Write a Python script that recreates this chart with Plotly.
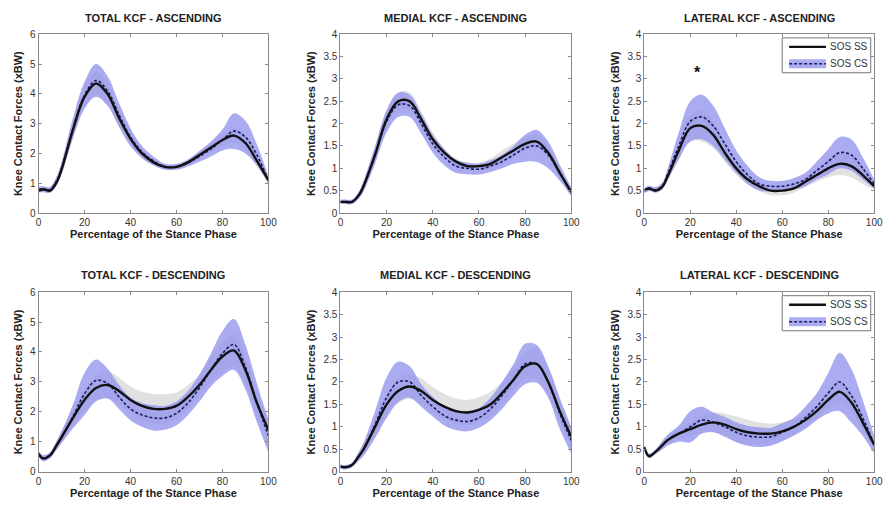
import plotly.graph_objects as go

# ---------------- data ----------------
pct = [0, 2, 5, 8, 10, 15, 20, 25, 30, 35, 40, 45, 50, 55, 60, 65, 70, 75, 80, 85, 90, 95, 100]

titles = ["TOTAL KCF - ASCENDING", "MEDIAL KCF - ASCENDING", "LATERAL KCF - ASCENDING",
          "TOTAL KCF - DESCENDING", "MEDIAL KCF - DESCENDING", "LATERAL KCF - DESCENDING"]

# SOS SS (solid) / SOS CS (dashed) means and SD
total_asc_ss = [0.75, 0.8, 0.75, 1.05, 1.45, 2.8, 3.9, 4.35, 4.0, 3.2, 2.5, 2.0, 1.7, 1.55, 1.55, 1.7, 1.95, 2.2, 2.45, 2.6, 2.35, 1.75, 1.1]
total_asc_ss_sd = [0.08, 0.08, 0.08, 0.1, 0.15, 0.25, 0.35, 0.4, 0.35, 0.3, 0.25, 0.15, 0.1, 0.08, 0.08, 0.1, 0.12, 0.15, 0.2, 0.25, 0.25, 0.2, 0.1]
total_asc_cs = [0.8, 0.8, 0.78, 1.1, 1.5, 2.85, 3.95, 4.45, 4.1, 3.3, 2.55, 2.05, 1.75, 1.55, 1.55, 1.68, 1.9, 2.15, 2.45, 2.75, 2.55, 1.95, 1.1]
total_asc_cs_sd = [0.1, 0.1, 0.1, 0.15, 0.2, 0.35, 0.45, 0.55, 0.5, 0.4, 0.3, 0.2, 0.15, 0.1, 0.1, 0.12, 0.18, 0.25, 0.35, 0.6, 0.55, 0.35, 0.12]

medial_asc_ss = [0.25, 0.25, 0.25, 0.4, 0.6, 1.3, 2.1, 2.5, 2.5, 2.1, 1.65, 1.35, 1.15, 1.05, 1.05, 1.1, 1.25, 1.4, 1.55, 1.6, 1.35, 0.9, 0.47]
medial_asc_ss_sd = [0.04, 0.04, 0.04, 0.06, 0.1, 0.15, 0.2, 0.2, 0.2, 0.18, 0.15, 0.1, 0.07, 0.06, 0.08, 0.12, 0.15, 0.15, 0.15, 0.16, 0.15, 0.1, 0.06]
medial_asc_cs = [0.25, 0.25, 0.25, 0.4, 0.6, 1.3, 2.05, 2.42, 2.4, 2.0, 1.55, 1.25, 1.05, 1.0, 0.98, 1.05, 1.15, 1.3, 1.45, 1.5, 1.3, 0.9, 0.47]
medial_asc_cs_sd = [0.05, 0.05, 0.05, 0.08, 0.12, 0.2, 0.25, 0.27, 0.25, 0.22, 0.2, 0.18, 0.15, 0.13, 0.12, 0.13, 0.15, 0.2, 0.3, 0.36, 0.3, 0.18, 0.1]

lateral_asc_ss = [0.5, 0.55, 0.5, 0.6, 0.8, 1.4, 1.9, 1.95, 1.75, 1.35, 1.0, 0.75, 0.6, 0.5, 0.5, 0.55, 0.7, 0.85, 1.0, 1.1, 1.05, 0.85, 0.6]
lateral_asc_ss_sd = [0.05, 0.05, 0.05, 0.07, 0.1, 0.2, 0.3, 0.35, 0.3, 0.2, 0.15, 0.12, 0.1, 0.1, 0.1, 0.1, 0.12, 0.15, 0.2, 0.25, 0.25, 0.2, 0.08]
lateral_asc_cs = [0.5, 0.55, 0.52, 0.62, 0.85, 1.5, 2.05, 2.15, 1.95, 1.55, 1.15, 0.85, 0.65, 0.6, 0.6, 0.65, 0.75, 0.95, 1.15, 1.35, 1.3, 1.0, 0.65]
lateral_asc_cs_sd = [0.06, 0.06, 0.06, 0.08, 0.12, 0.3, 0.45, 0.5, 0.45, 0.35, 0.25, 0.2, 0.15, 0.12, 0.12, 0.13, 0.15, 0.2, 0.28, 0.35, 0.35, 0.25, 0.1]

total_desc_ss = [0.6, 0.45, 0.55, 0.9, 1.15, 1.8, 2.4, 2.8, 2.9, 2.7, 2.4, 2.2, 2.1, 2.1, 2.2, 2.5, 2.9, 3.4, 3.85, 4.05, 3.4, 2.3, 1.4]
total_desc_ss_sd = [0.1, 0.1, 0.1, 0.15, 0.2, 0.3, 0.35, 0.4, 0.45, 0.45, 0.45, 0.48, 0.5, 0.5, 0.45, 0.4, 0.35, 0.4, 0.5, 0.55, 0.5, 0.4, 0.3]
total_desc_cs = [0.6, 0.45, 0.55, 0.9, 1.15, 1.85, 2.6, 3.05, 2.95, 2.5, 2.1, 1.9, 1.8, 1.8, 1.95, 2.3, 2.8, 3.4, 3.95, 4.25, 3.5, 2.3, 1.2]
total_desc_cs_sd = [0.1, 0.1, 0.1, 0.15, 0.2, 0.4, 0.7, 0.7, 0.5, 0.4, 0.38, 0.4, 0.42, 0.4, 0.4, 0.4, 0.45, 0.55, 0.75, 0.85, 0.75, 0.65, 0.55]

medial_desc_ss = [0.12, 0.1, 0.15, 0.35, 0.5, 1.0, 1.5, 1.8, 1.9, 1.8, 1.6, 1.45, 1.35, 1.32, 1.38, 1.5, 1.75, 2.05, 2.35, 2.4, 2.0, 1.35, 0.78]
medial_desc_ss_sd = [0.03, 0.03, 0.04, 0.08, 0.12, 0.2, 0.25, 0.28, 0.28, 0.28, 0.28, 0.28, 0.28, 0.28, 0.28, 0.28, 0.25, 0.25, 0.3, 0.35, 0.3, 0.25, 0.2]
medial_desc_cs = [0.12, 0.1, 0.15, 0.35, 0.5, 1.05, 1.65, 2.0, 2.0, 1.7, 1.45, 1.25, 1.15, 1.12, 1.2, 1.4, 1.7, 2.05, 2.4, 2.4, 2.0, 1.3, 0.7]
medial_desc_cs_sd = [0.05, 0.05, 0.05, 0.1, 0.15, 0.3, 0.45, 0.45, 0.35, 0.25, 0.22, 0.22, 0.22, 0.22, 0.22, 0.25, 0.3, 0.35, 0.45, 0.42, 0.35, 0.35, 0.3]

lateral_desc_ss = [0.55, 0.35, 0.45, 0.6, 0.7, 0.85, 0.95, 1.05, 1.1, 1.05, 0.95, 0.88, 0.85, 0.85, 0.9, 1.0, 1.15, 1.35, 1.6, 1.78, 1.55, 1.1, 0.6]
lateral_desc_ss_sd = [0.05, 0.05, 0.05, 0.08, 0.1, 0.12, 0.15, 0.2, 0.22, 0.25, 0.28, 0.28, 0.25, 0.22, 0.2, 0.18, 0.15, 0.15, 0.2, 0.25, 0.22, 0.18, 0.12]
lateral_desc_cs = [0.55, 0.35, 0.45, 0.6, 0.7, 0.85, 1.0, 1.15, 1.1, 1.0, 0.88, 0.8, 0.77, 0.78, 0.88, 1.0, 1.2, 1.45, 1.75, 2.0, 1.7, 1.2, 0.6]
lateral_desc_cs_sd = [0.05, 0.05, 0.05, 0.1, 0.12, 0.18, 0.35, 0.3, 0.22, 0.22, 0.22, 0.22, 0.22, 0.2, 0.2, 0.2, 0.25, 0.3, 0.45, 0.65, 0.6, 0.4, 0.2]

panels = [
    (total_asc_ss, total_asc_ss_sd, total_asc_cs, total_asc_cs_sd, 6),
    (medial_asc_ss, medial_asc_ss_sd, medial_asc_cs, medial_asc_cs_sd, 4),
    (lateral_asc_ss, lateral_asc_ss_sd, lateral_asc_cs, lateral_asc_cs_sd, 4),
    (total_desc_ss, total_desc_ss_sd, total_desc_cs, total_desc_cs_sd, 6),
    (medial_desc_ss, medial_desc_ss_sd, medial_desc_cs, medial_desc_cs_sd, 4),
    (lateral_desc_ss, lateral_desc_ss_sd, lateral_desc_cs, lateral_desc_cs_sd, 4),
]

x_ticks = [0, 20, 40, 60, 80, 100]
y_ticks_total = [0, 1, 2, 3, 4, 5, 6]
y_ticks_part = [0, 0.5, 1, 1.5, 2, 2.5, 3, 3.5, 4]
star_pos = (23, 3.15)  # significance marker on lateral ascending

# ---------------- styling ----------------
W, H = 896, 510
col_px = [(36, 269), (342, 576), (650, 883)]
row_px = [(29, 212), (293, 477)]

GRAY_FILL = "rgba(222,222,222,0.9)"
BLUE_FILL = "rgba(150,150,238,0.80)"
CS_LINE = "#1c1c5e"
AXIS_COL = "#8a8a8a"
FONT = "Liberation Sans, Arial, sans-serif"

fig = go.Figure()

for i, (ss, ss_sd, cs, cs_sd, ymax) in enumerate(panels):
    r, c = divmod(i, 3)
    n = i + 1
    xa = "x" if n == 1 else f"x{n}"
    ya = "y" if n == 1 else f"y{n}"
    ss_up = [m + s for m, s in zip(ss, ss_sd)]
    ss_lo = [m - s for m, s in zip(ss, ss_sd)]
    cs_up = [m + s for m, s in zip(cs, cs_sd)]
    cs_lo = [m - s for m, s in zip(cs, cs_sd)]
    common = dict(xaxis=xa, yaxis=ya, showlegend=False, hoverinfo="skip")
    # SS band (gray)
    fig.add_trace(go.Scatter(x=pct, y=ss_lo, mode="lines", line=dict(width=0, shape="spline"), **common))
    fig.add_trace(go.Scatter(x=pct, y=ss_up, mode="lines", line=dict(width=0, shape="spline"),
                             fill="tonexty", fillcolor=GRAY_FILL, **common))
    # CS band (blue)
    fig.add_trace(go.Scatter(x=pct, y=cs_lo, mode="lines", line=dict(width=0, shape="spline"), **common))
    fig.add_trace(go.Scatter(x=pct, y=cs_up, mode="lines", line=dict(width=0, shape="spline"),
                             fill="tonexty", fillcolor=BLUE_FILL, **common))
    # means
    fig.add_trace(go.Scatter(x=pct, y=cs, mode="lines", name="SOS CS",
                             line=dict(color=CS_LINE, width=1.6, dash="3px,2px", shape="spline"), **common))
    fig.add_trace(go.Scatter(x=pct, y=ss, mode="lines", name="SOS SS",
                             line=dict(color="#111111", width=2.4, shape="spline"), **common))

    x0, x1 = col_px[c]
    yt, yb = row_px[r]
    axis_common = dict(showline=True, linecolor=AXIS_COL, linewidth=1, mirror="ticks",
                       ticks="inside", ticklen=3, tickcolor=AXIS_COL, showgrid=False, zeroline=False,
                       tickfont=dict(family=FONT, size=10, color="#333333"))
    fig.layout[f"xaxis{'' if n == 1 else n}"] = dict(
        domain=[x0 / W, x1 / W], anchor=ya, range=[0, 100], tickvals=x_ticks,
        title=dict(text="<b>Percentage of the Stance Phase</b>", font=dict(family=FONT, size=11, color="#222"), standoff=1),
        **axis_common)
    yticks = y_ticks_total if ymax == 6 else y_ticks_part
    fig.layout[f"yaxis{'' if n == 1 else n}"] = dict(
        domain=[1 - yb / H, 1 - yt / H], anchor=xa, range=[0, ymax], tickvals=yticks,
        ticktext=[f"{v:g}" for v in yticks],
        title=dict(text="<b>Knee Contact Forces (xBW)</b>", font=dict(family=FONT, size=11, color="#222"), standoff=5),
        **axis_common)
    fig.add_annotation(text=f"<b>{titles[i]}</b>", xref="paper", yref="paper",
                       x=(x0 + x1) / 2 / W, y=1 - (yt - 9) / H, xanchor="center", yanchor="bottom",
                       showarrow=False, font=dict(family=FONT, size=11, color="#222"))

    # manual legend on right-hand panels
    if c == 2:
        xd, yd = f"{xa} domain", f"{ya} domain"
        lx0, lx1 = 0.6, 0.985
        ly0, ly1 = 0.785, 0.98
        fig.add_shape(type="rect", xref=xd, yref=yd, x0=lx0, x1=lx1, y0=ly0, y1=ly1,
                      line=dict(color="#777", width=1), fillcolor="white")
        fig.add_shape(type="rect", xref=xd, yref=yd, x0=lx0 + 0.03, x1=lx0 + 0.19, y0=0.81, y1=0.86,
                      line=dict(width=0), fillcolor=BLUE_FILL)
        fig.add_shape(type="line", xref=xd, yref=yd, x0=lx0 + 0.03, x1=lx0 + 0.19, y0=0.93, y1=0.93,
                      line=dict(color="#111", width=2.4))
        fig.add_shape(type="line", xref=xd, yref=yd, x0=lx0 + 0.03, x1=lx0 + 0.19, y0=0.835, y1=0.835,
                      line=dict(color=CS_LINE, width=1.6, dash="3px,2px"))
        fig.add_annotation(text="SOS SS", xref=xd, yref=yd, x=lx0 + 0.2, y=0.93, xanchor="left",
                           yanchor="middle", showarrow=False, font=dict(family=FONT, size=10, color="#333"))
        fig.add_annotation(text="SOS CS", xref=xd, yref=yd, x=lx0 + 0.2, y=0.835, xanchor="left",
                           yanchor="middle", showarrow=False, font=dict(family=FONT, size=10, color="#333"))

fig.add_annotation(text="<b>*</b>", xref="x3", yref="y3", x=star_pos[0], y=star_pos[1],
                   showarrow=False, font=dict(family=FONT, size=16, color="#111"), yanchor="middle")

fig.update_layout(width=W, height=H, margin=dict(l=0, r=0, t=0, b=0),
                  paper_bgcolor="white", plot_bgcolor="white", showlegend=False)

fig.write_html("out.html", config={"displayModeBar": False},
               post_script="document.body.style.margin='0';document.body.style.overflow='hidden';")
